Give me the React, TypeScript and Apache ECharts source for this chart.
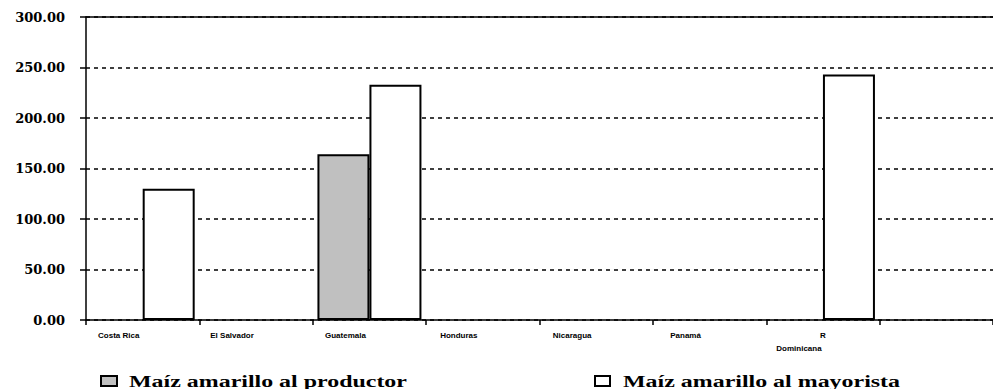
import React, { useEffect, useRef } from "react";
import * as echarts from "echarts";

const categories = ["Costa Rica", "El Salvador", "Guatemala", "Honduras", "Nicaragua", "Panamá", "R\nDominicana", ""];
const productor = [null, null, 164, null, null, null, null, null];
const mayorista = [130, null, 233, null, null, null, 243, null];
const seriesNames = ["Maíz amarillo al productor", "Maíz amarillo al mayorista"];

export default function App() {
  const ref = useRef<HTMLDivElement>(null);
  useEffect(() => {
    const chart = echarts.init(ref.current!, null, { renderer: "svg" });
    const serif = "'Liberation Serif', 'Times New Roman', serif";
    const wideSerif = "'DejaVu Serif', serif";
    const narrow = "'Liberation Sans Narrow', 'Liberation Sans', Arial, sans-serif";
    chart.setOption({
      animation: false,
      backgroundColor: "#ffffff",
      grid: { left: 86, right: 0, top: 17, bottom: 69 },
      xAxis: [
        {
          type: "category",
          data: categories,
          axisLine: { lineStyle: { color: "#000", width: 1.5 } },
          axisTick: { show: true, length: 5, lineStyle: { color: "#000", width: 1.5 } },
          axisLabel: {
            interval: 0,
            margin: 9,
            formatter: (v: string) =>
              v
                .split("\n")
                .map((line, i, arr) => (arr.length > 1 && i === 0 ? `{a|${line}}` : `{b|${line}}`))
                .join("\n"),
            rich: {
              a: {
                fontFamily: narrow,
                fontWeight: "bold",
                fontSize: 8,
                color: "#000",
                lineHeight: 13,
              },
              b: {
                fontFamily: narrow,
                fontWeight: "bold",
                fontSize: 8,
                color: "#000",
                lineHeight: 13,
                padding: [0, 48, 0, 0],
              },
            },
          },
        },
        {
          type: "category",
          position: "top",
          data: categories,
          axisLine: { show: true, lineStyle: { color: "#000", width: 1.5 } },
          axisTick: { show: false },
          axisLabel: { show: false },
        },
      ],
      yAxis: {
        type: "value",
        min: 0,
        max: 300,
        interval: 50,
        axisLine: { show: true, lineStyle: { color: "#000", width: 1.5 } },
        axisTick: { show: true, length: 6, lineStyle: { color: "#000", width: 1.5 } },
        axisLabel: {
          formatter: (v: number) => v.toFixed(2),
          fontFamily: wideSerif,
          fontWeight: "bold",
          fontSize: 13,
          color: "#000",
          margin: 21,
        },
        splitLine: { show: true, lineStyle: { color: "#000", width: 1.6, type: [4, 4] } },
      },
      series: [
        {
          name: seriesNames[0],
          type: "bar",
          data: productor,
          barWidth: 52,
          barGap: "0%",
          itemStyle: { color: "#c0c0c0", borderColor: "#000", borderWidth: 2 },
        },
        {
          name: seriesNames[1],
          type: "bar",
          data: mayorista,
          barWidth: 52,
          barGap: "0%",
          itemStyle: { color: "#ffffff", borderColor: "#000", borderWidth: 2 },
        },
      ],
      graphic: [
        {
          type: "rect",
          shape: { x: 101, y: 376, width: 16, height: 10 },
          style: { fill: "#c0c0c0", stroke: "#000", lineWidth: 2 },
        },
        {
          type: "text",
          x: 129,
          y: 381,
          scaleX: 1.45,
          style: {
            text: seriesNames[0],
            fontFamily: serif,
            fontWeight: "bold",
            fontSize: 16.5,
            fill: "#000",
            align: "left",
            verticalAlign: "middle",
          },
        },
        {
          type: "rect",
          shape: { x: 595, y: 376, width: 15, height: 10 },
          style: { fill: "#ffffff", stroke: "#000", lineWidth: 2 },
        },
        {
          type: "text",
          x: 623,
          y: 381,
          scaleX: 1.45,
          style: {
            text: seriesNames[1],
            fontFamily: serif,
            fontWeight: "bold",
            fontSize: 16.5,
            fill: "#000",
            align: "left",
            verticalAlign: "middle",
          },
        },
      ],
    });
    return () => chart.dispose();
  }, []);
  return (
    <div
      ref={ref}
      style={{ position: "absolute", left: 0, top: 0, width: 993, height: 389 }}
    />
  );
}
